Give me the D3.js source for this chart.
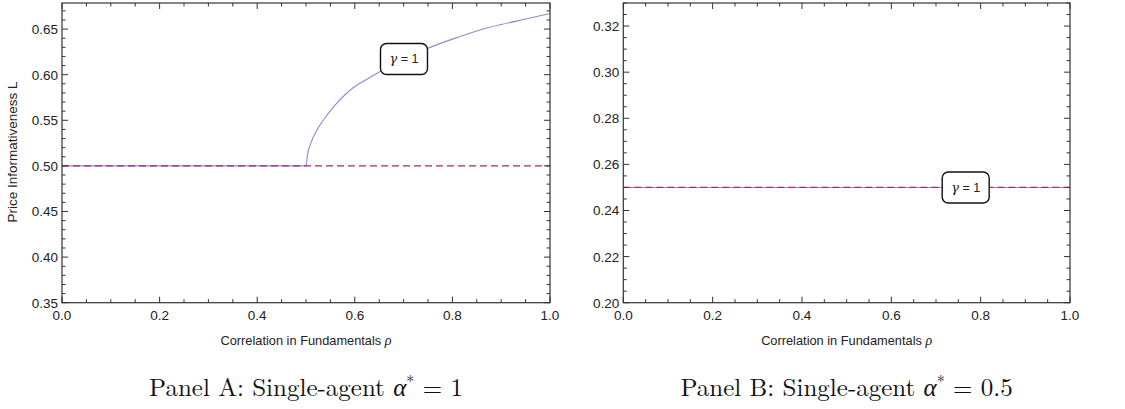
<!DOCTYPE html>
<html><head><meta charset="utf-8">
<script src="https://cdn.jsdelivr.net/npm/d3@7"></script>
<style>
body{margin:0;background:#fff;}
svg{display:block;}
text{font-family:"Liberation Sans",Arial,Helvetica,sans-serif;fill:#222;}
.ttl{font-family:"Latin Modern Roman","CMU Serif","Liberation Serif","DejaVu Serif",serif;fill:#111;}
</style></head><body>
<svg id="c" width="1125" height="409"></svg>
<script>
// Panel A data
const rhoA = [0, 0.5, 0.503, 0.51, 0.52, 0.53, 0.545, 0.56, 0.58, 0.60, 0.625, 0.65, 0.70, 0.75, 0.80, 0.85, 0.90, 0.95, 1.0];
const curveA = [0.5, 0.5, 0.512, 0.525, 0.537, 0.546, 0.557, 0.567, 0.578, 0.587, 0.595, 0.603, 0.617, 0.629, 0.639, 0.648, 0.655, 0.661, 0.667];
const dashA = [0.5, 0.5];
const dashRho = [0, 1];
// Panel B data
const rhoB = [0, 1];
const curveB = [0.25, 0.25];
const dashB = [0.25, 0.25];
// Ticks
const xTicks = [0, 0.2, 0.4, 0.6, 0.8, 1.0];
const yTicksA = [0.35, 0.40, 0.45, 0.50, 0.55, 0.60, 0.65];
const yTicksB = [0.20, 0.22, 0.24, 0.26, 0.28, 0.30, 0.32];
const labelText = "γ = 1";

const svg = d3.select("#c");
const solidColor = "#8b8bd0";
const dashColor = "#a02a6a";

function panel(o){
  const x = d3.scaleLinear().domain([0,1]).range([o.left,o.right]);
  const y = d3.scaleLinear().domain(o.yDomain).range([o.bottom,o.top]);
  const g = svg.append("g");
  const line = d3.line().x(d=>x(d[0])).y(d=>y(d[1])).curve(d3.curveMonotoneX);
  g.append("path").datum(o.rho.map((r,i)=>[r,o.curve[i]]))
    .attr("d",line).attr("fill","none").attr("stroke",solidColor).attr("stroke-width",1.1);
  g.append("path").datum(dashRho.map((r,i)=>[r,o.dash[i]]))
    .attr("d",d3.line().x(d=>x(d[0])).y(d=>y(d[1]))).attr("fill","none")
    .attr("stroke",dashColor).attr("stroke-width",1.2).attr("stroke-dasharray","7,4");
  // label
  const lx = x(o.labelRho), ly = y(o.labelL);
  g.append("rect").attr("x",lx-23.5).attr("y",ly-15.5).attr("width",47).attr("height",31)
    .attr("rx",6).attr("fill","#fff").attr("stroke","#111").attr("stroke-width",1.4);
  const t = g.append("text").attr("x",lx).attr("y",ly+4.5).attr("text-anchor","middle").attr("font-size",12.5);
  t.append("tspan").attr("font-style","italic").attr("font-family","'DejaVu Serif','Liberation Serif',serif").attr("font-size",13).text(labelText.split(" ")[0]);
  t.append("tspan").text(" " + labelText.split(" ").slice(1).join(" "));
  // ticks inward
  const xMinor = d3.range(0,1.0001,0.05).filter(v=>!xTicks.some(t=>Math.abs(t-v)<1e-6));
  const yMinor = d3.range(o.yDomain[0], o.yDomain[1]+1e-9, o.yMinorStep).filter(v=>!o.yTicks.some(t=>Math.abs(t-v)<1e-6));
  const axG = g.append("g").attr("stroke","#333").attr("stroke-width",1);
  const M=6, m=3.5;
  [[o.bottom,-1],[o.top,1]].forEach(([yy,dir])=>{
    axG.selectAll(null).data(xTicks).enter().append("line")
      .attr("x1",d=>x(d)).attr("x2",d=>x(d)).attr("y1",yy).attr("y2",yy+dir*M);
    axG.selectAll(null).data(xMinor).enter().append("line")
      .attr("x1",d=>x(d)).attr("x2",d=>x(d)).attr("y1",yy).attr("y2",yy+dir*m);
  });
  [[o.left,1],[o.right,-1]].forEach(([xx,dir])=>{
    axG.selectAll(null).data(o.yTicks).enter().append("line")
      .attr("y1",d=>y(d)).attr("y2",d=>y(d)).attr("x1",xx).attr("x2",xx+dir*M);
    axG.selectAll(null).data(yMinor).enter().append("line")
      .attr("y1",d=>y(d)).attr("y2",d=>y(d)).attr("x1",xx).attr("x2",xx+dir*m);
  });
  g.append("rect").attr("x",o.left).attr("y",o.top).attr("width",o.right-o.left).attr("height",o.bottom-o.top)
    .attr("fill","none").attr("stroke","#333").attr("stroke-width",1.2);
  // tick labels
  g.selectAll(null).data(xTicks).enter().append("text")
    .attr("x",d=>x(d)).attr("y",o.bottom+17.5).attr("text-anchor","middle").attr("font-size",13.5)
    .text(d=>d3.format(".1f")(d));
  g.selectAll(null).data(o.yTicks).enter().append("text")
    .attr("x",o.left-4).attr("y",d=>y(d)+5).attr("text-anchor","end").attr("font-size",13.5)
    .text(d=>d3.format(".2f")(d));
  // axis title
  const xt = g.append("text").attr("x",(o.left+o.right)/2).attr("y",344.5).attr("text-anchor","middle").attr("font-size",12.8);
  xt.append("tspan").text("Correlation in Fundamentals ");
  xt.append("tspan").attr("font-style","italic").attr("font-family","'Liberation Serif',serif").attr("font-size",14).text("ρ");
  // panel title
  const pt = g.append("text").attr("class","ttl").attr("x",(o.left+o.right)/2).attr("y",396).attr("text-anchor","middle").attr("font-size",25);
  pt.append("tspan").text(o.title+" ");
  pt.append("tspan").attr("font-style","italic").text("α");
  pt.append("tspan").attr("dy",-9).attr("font-size",16).text("*");
  pt.append("tspan").attr("dy",9).text(" = "+o.titleVal);
  return {x,y};
}

panel({left:62,right:550,top:3,bottom:302.7,yDomain:[0.35,0.6786],yTicks:yTicksA,yMinorStep:0.01,
  rho:rhoA,curve:curveA,dash:dashA,labelRho:0.7008,labelL:0.6172,title:"Panel A: Single-agent",titleVal:"1"});
panel({left:623.3,right:1070,top:3,bottom:302.7,yDomain:[0.20,0.33],yTicks:yTicksB,yMinorStep:0.005,
  rho:rhoB,curve:curveB,dash:dashB,labelRho:0.7665,labelL:0.25,title:"Panel B: Single-agent",titleVal:"0.5"});

svg.append("text").attr("transform","translate(17,152) rotate(-90)").attr("text-anchor","middle")
  .attr("font-size",13.5).text("Price Informativeness L");
</script>
</body></html>
